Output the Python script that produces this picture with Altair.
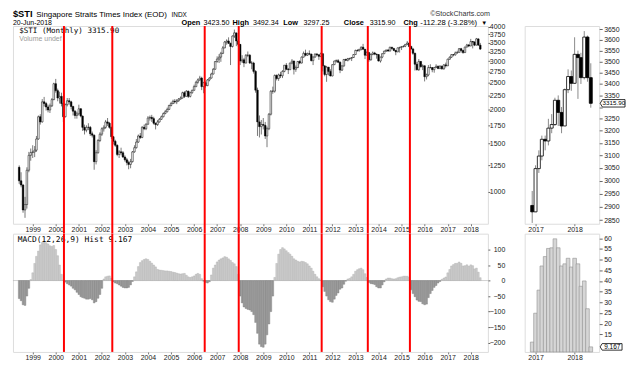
import altair as alt
import pandas as pd

# ---------------- data ----------------
first_open = 1230
close = [
    1098, 1060, 860, 900, 1200, 1360, 1393,
    1400, 1420, 1560, 1880, 1800, 2130, 2100, 2040, 1990, 2060, 2170, 2480,
    2340, 2200, 2230, 2100, 1880, 2080, 2150, 2130, 2050, 1970, 1900, 1926,
    2010, 1890, 1720, 1680, 1720, 1720, 1630, 1610, 1290, 1390, 1540, 1624,
    1700, 1720, 1800, 1780, 1720, 1590, 1530, 1480, 1370, 1400, 1390, 1341,
    1310, 1280, 1260, 1290, 1400, 1450, 1520, 1600, 1580, 1720, 1700, 1765,
    1860, 1870, 1850, 1780, 1760, 1800, 1840, 1880, 1930, 1960, 2000, 2066,
    2100, 2140, 2130, 2150, 2180, 2200, 2300, 2230, 2330, 2230, 2300, 2347,
    2420, 2510, 2560, 2600, 2420, 2500, 2440, 2560, 2600, 2690, 2800, 2986,
    3050, 3100, 3200, 3350, 3520, 3550, 3480, 3390, 3700, 3800, 3550, 3450,
    3000, 3030, 2950, 3150, 3150, 2950, 2950, 2750, 2350, 1800, 1730, 1762,
    1750, 1600, 1700, 1920, 2330, 2330, 2660, 2590, 2670, 2650, 2750, 2897,
    2800, 2790, 2950, 3000, 2800, 2840, 2990, 2950, 3100, 3200, 3150, 3190,
    3180, 3010, 3100, 3180, 3160, 3120, 3190, 2880, 2680, 2850, 2750, 2646,
    2910, 3000, 3010, 2970, 2780, 2880, 3040, 3020, 3060, 3070, 3090, 3167,
    3280, 3270, 3310, 3370, 3310, 3150, 3220, 3030, 3170, 3210, 3180, 3167,
    3000, 3100, 3190, 3260, 3290, 3260, 3370, 3330, 3280, 3240, 3350, 3365,
    3390, 3400, 3450, 3490, 3390, 3320, 3200, 2920, 2790, 2990, 2860, 2883,
    2630, 2670, 2840, 2840, 2790, 2840, 2870, 2820, 2870, 2810, 2905, 2881,
    3047, 3097, 3165, 3158, 3211, 3226, 3329, 3277, 3220, 3375, 3433, 3403,
    3533, 3518, 3428, 3613, 3428, 3315.9,
]
high = [
    1250, 1180, 1070, 960, 1230, 1400, 1440,
    1480, 1470, 1600, 1900, 1920, 2180, 2220, 2130, 2080, 2100, 2200, 2500,
    2582, 2380, 2320, 2300, 2120, 2100, 2200, 2200, 2150, 2060, 1990, 1960,
    2080, 2020, 1900, 1760, 1750, 1780, 1740, 1660, 1620, 1420, 1560, 1650,
    1720, 1750, 1830, 1860, 1800, 1730, 1600, 1550, 1490, 1420, 1450, 1410,
    1360, 1330, 1300, 1320, 1410, 1480, 1560, 1620, 1640, 1740, 1760, 1780,
    1890, 1900, 1910, 1880, 1790, 1830, 1860, 1900, 1950, 1990, 2030, 2080,
    2130, 2170, 2180, 2180, 2200, 2230, 2320, 2330, 2350, 2340, 2320, 2360,
    2460, 2540, 2590, 2650, 2630, 2520, 2530, 2580, 2620, 2720, 2830, 3000,
    3120, 3180, 3240, 3400, 3550, 3600, 3660, 3500, 3720, 3906, 3800, 3600,
    3460, 3150, 3080, 3180, 3250, 3180, 3000, 2980, 2780, 2400, 1900, 1830,
    1860, 1800, 1730, 1940, 2350, 2420, 2680, 2680, 2700, 2740, 2780, 2900,
    2950, 2830, 2960, 3050, 3010, 2890, 3000, 3020, 3120, 3250, 3300, 3220,
    3280, 3190, 3120, 3200, 3210, 3170, 3220, 3200, 2900, 2880, 2850, 2800,
    2920, 3010, 3040, 3050, 2990, 2890, 3050, 3060, 3080, 3080, 3100, 3180,
    3300, 3310, 3320, 3390, 3464, 3320, 3260, 3240, 3200, 3250, 3240, 3190,
    3180, 3110, 3200, 3270, 3300, 3320, 3380, 3370, 3350, 3290, 3360, 3380,
    3400, 3420, 3460, 3550, 3500, 3410, 3350, 3220, 2980, 3050, 3000, 2920,
    2890, 2700, 2900, 2920, 2850, 2850, 2920, 2890, 2900, 2890, 2925, 2960,
    3060, 3120, 3180, 3180, 3250, 3270, 3340, 3350, 3300, 3380, 3465, 3460,
    3612, 3550, 3540, 3641, 3620, 3492.34,
]
low = [
    1070, 1040, 840, 805, 870, 1180, 1300,
    1330, 1340, 1400, 1550, 1760, 1790, 2050, 1980, 1950, 1940, 2040, 2160,
    2300, 2140, 2100, 2050, 1800, 1870, 2050, 2080, 2000, 1900, 1850, 1850,
    1900, 1870, 1670, 1620, 1650, 1680, 1600, 1580, 1205, 1260, 1380, 1520,
    1600, 1660, 1700, 1740, 1700, 1560, 1490, 1460, 1350, 1330, 1360, 1330,
    1290, 1250, 1210, 1220, 1280, 1390, 1440, 1510, 1560, 1570, 1680, 1680,
    1760, 1820, 1800, 1760, 1690, 1740, 1790, 1830, 1870, 1920, 1950, 1990,
    2050, 2090, 2100, 2090, 2130, 2170, 2190, 2200, 2230, 2200, 2210, 2280,
    2340, 2410, 2480, 2540, 2350, 2290, 2400, 2430, 2530, 2590, 2680, 2790,
    2960, 2950, 2980, 3180, 3340, 3440, 3460, 2900, 3360, 3640, 3400, 3390,
    2900, 2950, 2850, 2940, 3100, 2930, 2800, 2700, 2300, 1600, 1580, 1620,
    1690, 1560, 1456, 1680, 1900, 2280, 2300, 2550, 2540, 2600, 2600, 2730,
    2780, 2690, 2780, 2920, 2680, 2740, 2830, 2920, 2940, 3090, 3120, 3130,
    3150, 2990, 2900, 3090, 3120, 3030, 3100, 2750, 2640, 2520, 2660, 2640,
    2640, 2900, 2960, 2950, 2710, 2760, 2860, 3000, 2990, 3020, 3000, 3080,
    3160, 3250, 3250, 3280, 3300, 3050, 3140, 2980, 3010, 3150, 3150, 3060,
    2990, 2960, 3070, 3180, 3240, 3250, 3260, 3300, 3260, 3150, 3230, 3220,
    3290, 3360, 3370, 3440, 3370, 3300, 3160, 2770, 2770, 2760, 2840, 2780,
    2528, 2570, 2640, 2820, 2730, 2720, 2830, 2800, 2800, 2790, 2790, 2840,
    2880, 3030, 3080, 3120, 3140, 3190, 3220, 3220, 3190, 3220, 3360, 3370,
    3400, 3335, 3400, 3420, 3410, 3297.25,
]
macd = [
    -58, -65, -78, -80, -50, -25, 3, 25, 55, 78, 95, 115, 123, 124, 122, 118, 112, 110, 113, 100, 80, 50, 20, 2,
    -5, -10, -14, -18, -25, -30, -38, -45, -52, -55, -57, -60, -60, -58, -62, -72, -68, -57, -45, -25, 5, 12, 14, 15,
    8, -4, -8, -10, -14, -18, -22, -24, -24, -22, -14, -3, 12, 28, 45, 58, 64, 68, 70, 68, 62, 56, 50, 44,
    36, 34, 33, 32, 31, 31, 30, 29, 27, 26, 24, 22, 21, 22, 23, 17, 12, 10, 12, 15, 20, 23, 20, 6,
    -2, -6, -8, -4, 18, 40, 50, 60, 66, 70, 73, 77, 75, 70, 65, 58, 54, 45, 20, -50, -72, -85, -90, -93,
    -95, -100, -110, -135, -170, -205, -213, -215, -205, -175, -140, -100, -50, 10, 55, 85, 100, 106, 102, 96, 90, 85, 78, 70,
    66, 62, 60, 62, 61, 58, 54, 47, 40, 30, 20, 12, 6, 1, -20, -35, -50, -62, -68, -70, -60, -48, -40, -28,
    -24, -12, -2, 5, 7, 12, 20, 30, 35, 38, 40, 35, 22, 10, -6, -10, -11, -13, -20, -24, -24, -14, -4, 5,
    8, 8, 6, 5, 6, 9, 11, 12, 14, 14, 14, 10, -30, -42, -52, -63, -67, -68, -75, -78, -76, -55, -42, -32,
    -22, -16, -8, -3, 4, 8, 11.4, 24.9, 35.7, 47, 51.4, 55.2, 55.5, 59.7, 55.5, 47, 48, 50.6, 46.5, 50.6, 48, 37.5, 40, 27, 9.167,
]
red_line_dates = ["2000-05-10", "2002-06-15", "2006-06-18", "2007-12-09",
                  "2011-07-15", "2013-07-15", "2015-05-13"]
price_ticks = [1000, 1250, 1500, 1750, 2000, 2250, 2500, 2750, 3000, 3250, 3500, 3750, 4000]
macd_ticks = [-200, -150, -100, -50, 0, 50, 100]
zoom_price_ticks = [2850, 2900, 2950, 3000, 3050, 3100, 3150, 3200, 3250, 3300,
                    3350, 3400, 3450, 3500, 3550, 3600, 3650]
zoom_macd_ticks = [15, 20, 25, 30, 35, 40, 45, 50, 55, 60]
main_years = list(range(1999, 2019))
zoom_years = [2017, 2018]
last_close = 3315.90
last_hist = 9.167

# ---------------- tables ----------------
dates = pd.date_range("1998-06-01", periods=len(close), freq="MS")
opens = [first_open] + close[:-1]
df = pd.DataFrame({"date": dates, "open": opens, "high": high, "low": low,
                   "close": close, "macd": macd})
df["up"] = df["close"] >= df["open"]
zdf = df[df["date"] >= pd.Timestamp("2016-12-01")]
red_df = pd.DataFrame({"date": pd.to_datetime(red_line_dates)})
one = pd.DataFrame({"k": [0]})

# ---------------- layout ----------------
W1, H1 = 478, 199
W2, H2 = 75, 119
GAP = 10
COLGAP = 37
FONT = "Liberation Sans"
MONO = "DejaVu Sans Mono"


def dt(y, m, d):
    return alt.DateTime(year=y, month=m, date=d)


def xaxis(years):
    return alt.Axis(values=[dt(y, 1, 1) for y in years], format="%Y", title=None,
                    labelFontSize=7, labelFont=FONT, labelColor="#222",
                    tickSize=2, tickColor="#777", labelPadding=0,
                    domain=False, grid=False, labelOverlap=False)


x_main_scale = alt.Scale(domain=[dt(1998, 5, 12), dt(2018, 7, 13)])
x_zoom_scale = alt.Scale(domain=[dt(2016, 11, 7), dt(2018, 7, 3)])


def xm(field="date:T"):
    return alt.X(field, scale=x_main_scale, axis=xaxis(main_years))


def xz(field="date:T"):
    return alt.X(field, scale=x_zoom_scale, axis=xaxis(zoom_years))


def yaxis(values, align, pad, tick, fmt=None, expr=None):
    kw = dict(orient="right", values=values, title=None, labelFontSize=7,
              labelFont=FONT, labelColor="#222", tickSize=tick, tickColor="#666",
              labelPadding=pad, labelAlign=align, domain=False, grid=False,
              labelOverlap=False, labelSeparation=0)
    if fmt:
        kw["format"] = fmt
    if expr:
        kw["labelExpr"] = expr
    return alt.Axis(**kw)


main_y_scale = alt.Scale(type="log", domain=[766, 4024], nice=False)
main_y_axis = yaxis(price_ticks, "right", 15, 2, "d")
macd_y_scale = alt.Scale(domain=[-230, 151], nice=False, zero=False)
macd_y_axis = yaxis(macd_ticks, "right", 15, 2)
zoom_y_scale = alt.Scale(type="log", domain=[2837, 3665], nice=False)
zoom_y_axis = yaxis(zoom_price_ticks, "left", 1.5, 3, "d",
                    "datum.value == 3300 ? '' : datum.label")
zmacd_y_scale = alt.Scale(domain=[6.8, 62.1], nice=False, zero=False)
zmacd_y_axis = yaxis(zoom_macd_ticks, "left", 1.5, 3)


def label(text, x, y, size, weight="normal", color="#000", font=FONT, align="left"):
    return alt.Chart(one).mark_text(text=text, fontSize=size, fontWeight=weight,
                                    color=color, font=font, align=align,
                                    baseline="alphabetic").encode(
        x=alt.value(x), y=alt.value(y))


up_fill = alt.condition(alt.datum.up, alt.value("white"), alt.value("black"))

# ---------------- main price panel ----------------
m_wick = alt.Chart(df).mark_rule(color="#7a7a7a", strokeWidth=1).encode(
    x=xm(), y=alt.Y("low:Q", scale=main_y_scale, axis=main_y_axis), y2="high:Q")
m_body = alt.Chart(df).mark_bar(size=1.6, stroke="black", strokeWidth=0.5).encode(
    x=xm(), y=alt.Y("open:Q", scale=main_y_scale, axis=main_y_axis), y2="close:Q",
    fill=up_fill)
m_red = alt.Chart(red_df).mark_rule(color="#ff0000", strokeWidth=2).encode(
    x=xm(), y=alt.value(0), y2=alt.value(H1 + GAP))

TY = -9.0   # title row baseline
DY = -1.3   # date / OHLC row baseline
header = [
    label("$STI", 0, TY, 9.3, "bold"),
    label("Singapore Straits Times Index (EOD)", 23.5, TY, 8),
    label("INDX", 159.5, TY, 6.5),
    label("\u00a9StockCharts.com", 480, TY - 1.2, 7.2, color="#333", align="right"),
    label("20-Jun-2018", 0, DY, 7),
    label("Open", 169.7, DY, 7.4, "bold"),
    label("3423.50", 191.8, DY, 7.2),
    label("High", 221, DY, 7.4, "bold"),
    label("3492.34", 241.5, DY, 7.2),
    label("Low", 272, DY, 7.4, "bold"),
    label("3297.25", 292.5, DY, 7.2),
    label("Close", 333, DY, 7.4, "bold"),
    label("3315.90", 359, DY, 7.2),
    label("Chg", 393, DY, 7.4, "bold"),
    label("-112.28 (-3.28%)", 410, DY, 7.7),
    label("\u25be", 472.5, DY, 7, font="DejaVu Sans"),
    label("$STI (Monthly) 3315.90", 6.3, 7.3, 7.6, font=MONO),
    label("Volume undef", 6.3, 14.6, 7, color="#999"),
]

main_price = alt.layer(m_wick, m_body, *header, m_red).properties(width=W1, height=H1)

# ---------------- main MACD panel ----------------
h_zero = alt.Chart(one).mark_rule(color="#b0b0b0", strokeWidth=0.6).encode(
    y=alt.datum(0, scale=macd_y_scale, axis=macd_y_axis))
h_bars = alt.Chart(df).mark_bar(size=1.75, strokeWidth=0.4).encode(
    x=xm(), y=alt.Y("macd:Q", scale=macd_y_scale, axis=macd_y_axis), y2=alt.datum(0),
    fill=alt.condition(alt.datum.macd >= 0, alt.value("#cdcdcd"), alt.value("#9a9a9a")),
    stroke=alt.condition(alt.datum.macd >= 0, alt.value("#aaaaaa"), alt.value("#7a7a7a")))
h_red = alt.Chart(red_df).mark_rule(color="#ff0000", strokeWidth=2).encode(
    x=xm(), y=alt.value(0), y2=alt.value(H2))
h_text = label("MACD(12,26,9) Hist 9.167", 4.7, 8, 8, font=MONO)

main_macd = alt.layer(h_zero, h_bars, h_text, h_red).properties(width=W1, height=H2)

# ---------------- zoom price panel ----------------
tag_path = "M-1,0L-0.82,-0.3L1,-0.3L1,0.3L-0.82,0.3Z"
z_wick = alt.Chart(zdf).mark_rule(color="#8a8a8a", strokeWidth=1).encode(
    x=xz(), y=alt.Y("low:Q", scale=zoom_y_scale, axis=zoom_y_axis), y2="high:Q")
z_body = alt.Chart(zdf).mark_bar(size=3, stroke="black", strokeWidth=0.8).encode(
    x=xz(), y=alt.Y("open:Q", scale=zoom_y_scale, axis=zoom_y_axis), y2="close:Q",
    fill=up_fill)
z_tag = alt.Chart(one).mark_point(shape=tag_path, size=625, filled=True, fill="white",
                                  stroke="black", strokeWidth=0.8, opacity=1).encode(
    x=alt.value(W2 + 13.5),
    y=alt.datum(last_close, scale=zoom_y_scale, axis=zoom_y_axis))
z_tag_text = alt.Chart(one).mark_text(text="3315.90", fontSize=6.3, font=FONT,
                                      align="center", baseline="middle").encode(
    x=alt.value(W2 + 14.8),
    y=alt.datum(last_close, scale=zoom_y_scale, axis=zoom_y_axis))

zoom_price = alt.layer(z_wick, z_body, z_tag, z_tag_text).properties(width=W2, height=H1)

# ---------------- zoom MACD panel ----------------
zh_bars = alt.Chart(zdf).mark_bar(size=3.7, fill="#d6d6d6", stroke="#8f8f8f",
                                  strokeWidth=0.6).encode(
    x=xz(), y=alt.Y("macd:Q", scale=zmacd_y_scale, axis=zmacd_y_axis),
    y2=alt.datum(6.8))
zh_tag = alt.Chart(one).mark_point(shape=tag_path, size=484, filled=True, fill="white",
                                   stroke="black", strokeWidth=0.8, opacity=1).encode(
    x=alt.value(W2 + 12),
    y=alt.datum(last_hist, scale=zmacd_y_scale, axis=zmacd_y_axis))
zh_tag_text = alt.Chart(one).mark_text(text="9.167", fontSize=6.5, font=FONT,
                                       align="center", baseline="middle").encode(
    x=alt.value(W2 + 13.2),
    y=alt.datum(last_hist, scale=zmacd_y_scale, axis=zmacd_y_axis))

zoom_macd = alt.layer(zh_bars, zh_tag, zh_tag_text).properties(width=W2, height=H2)

chart = alt.concat(
    main_price, zoom_price, main_macd, zoom_macd,
    columns=2, spacing={"row": GAP, "column": COLGAP}, bounds="flush", align="each",
).properties(
    padding={"left": 4, "top": 0, "right": 0, "bottom": 0}
).configure_view(
    stroke="#a6a6a6", strokeWidth=1
).configure(background="white")

chart.save("out.html", embed_options={"renderer": "svg", "actions": False})
